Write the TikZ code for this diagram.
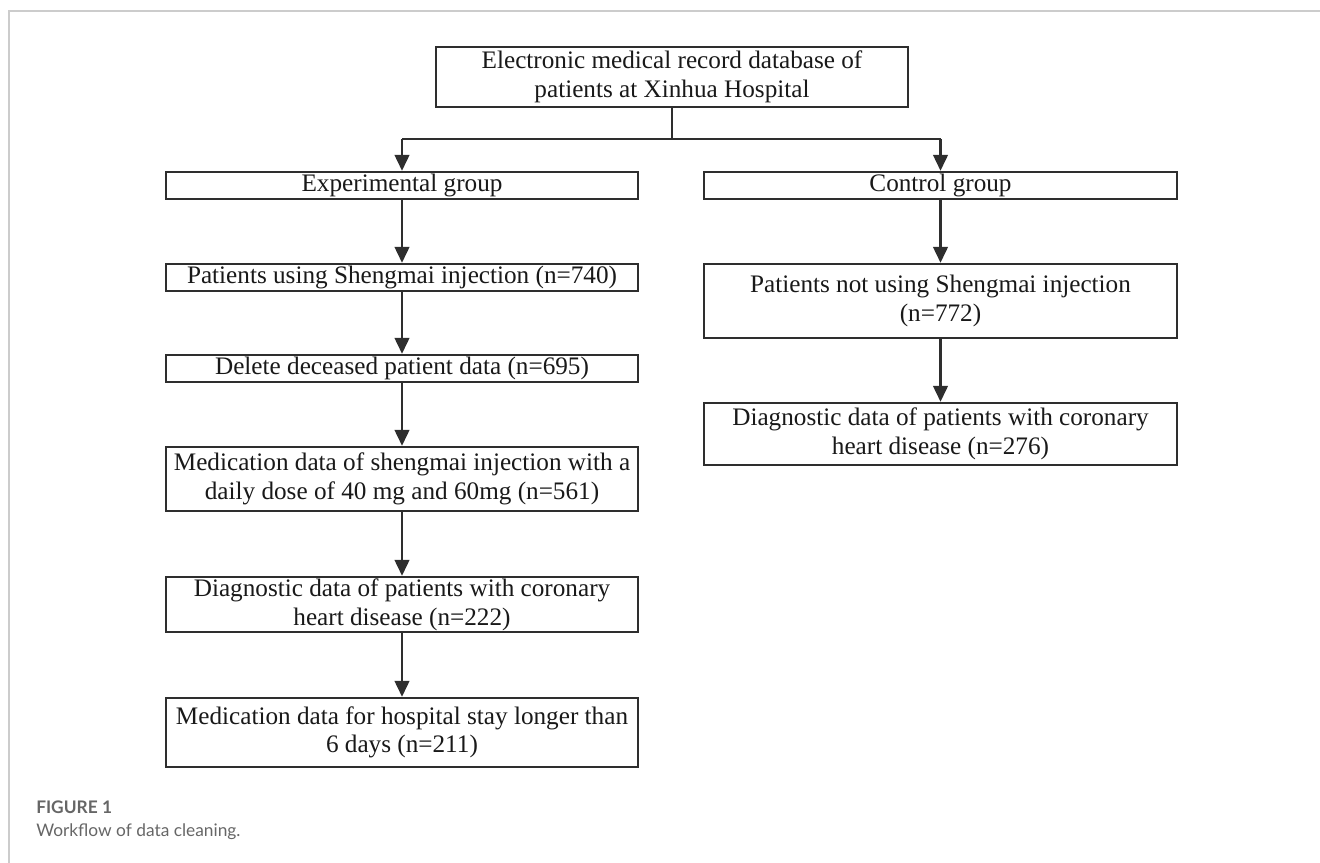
\documentclass[tikz,border=0pt]{standalone}
\usepackage{fontspec}
\setmainfont{Liberation Serif}
\newfontfamily\capfont{Lato}
\usetikzlibrary{arrows.meta}
\definecolor{framegray}{HTML}{CCCCCC}
\definecolor{capgray}{HTML}{666666}
\definecolor{boxline}{HTML}{2E2E2E}
\tikzset{
  x=0.75pt, y=-0.75pt,
  flowbox/.style={draw=boxline, line width=1.8pt, fill=white, inner sep=0pt,
    align=center, font=\fontsize{18.9}{21.5}\selectfont, text=black!90},
  flowarrow/.style={draw=boxline, line width=1.8pt, -{Triangle[width=11pt,length=12pt]}},
  flowline/.style={draw=boxline, line width=1.8pt},
}
\begin{document}
\begin{tikzpicture}
\useasboundingbox (0,0) rectangle (1320,863);
% frame
\draw[framegray, line width=1.5pt] (9,863) -- (9,11.5) -- (1320,11.5);
% boxes (pixel coordinates)
\node[flowbox, minimum width=472*0.75pt, minimum height=60*0.75pt] (top) at (672,77)
  {Electronic medical record database of\\patients at Xinhua Hospital};
\node[flowbox, minimum width=472*0.75pt, minimum height=27*0.75pt] (exp) at (402,185.5) {Experimental group};
\node[flowbox, minimum width=472*0.75pt, minimum height=27*0.75pt] (pat) at (402,277.5) {Patients using Shengmai injection (n=740)};
\node[flowbox, minimum width=472*0.75pt, minimum height=27*0.75pt] (del) at (402,368.5) {Delete deceased patient data (n=695)};
\node[flowbox, minimum width=472*0.75pt, minimum height=64*0.75pt] (med) at (402,479)
  {Medication data of shengmai injection with a\\daily dose of 40 mg and 60mg (n=561)};
\node[flowbox, minimum width=472*0.75pt, minimum height=55*0.75pt] (diagl) at (402,604.5)
  {Diagnostic data of patients with coronary\\heart disease (n=222)};
\node[flowbox, minimum width=472*0.75pt, minimum height=69*0.75pt] (stay) at (402,732.5)
  {Medication data for hospital stay longer than\\6 days (n=211)};
\node[flowbox, minimum width=473*0.75pt, minimum height=27*0.75pt] (ctl) at (940.5,185.5) {Control group};
\node[flowbox, minimum width=473*0.75pt, minimum height=74*0.75pt] (notu) at (940.5,301)
  {Patients not using Shengmai injection\\(n=772)};
\node[flowbox, minimum width=473*0.75pt, minimum height=62*0.75pt] (diagr) at (940.5,434)
  {Diagnostic data of patients with coronary\\heart disease (n=276)};
% connectors
\coordinate (split) at (672,139);
\coordinate (splitl) at (402,139);
\coordinate (splitr) at (940.5,139);
\draw[flowline] (top.south) -- (split);
\draw[flowline] (splitl) -- (splitr);
\draw[flowarrow] (splitl) -- (exp.north);
\draw[flowarrow] (splitr) -- (ctl.north);
\draw[flowarrow] (exp) -- (pat);
\draw[flowarrow] (pat) -- (del);
\draw[flowarrow] (del) -- (med);
\draw[flowarrow] (med) -- (diagl);
\draw[flowarrow] (diagl) -- (stay);
\draw[flowarrow] (ctl) -- (notu);
\draw[flowarrow] (notu) -- (diagr);
% caption
\node[anchor=base west, inner sep=0pt, text=capgray, font=\capfont\bfseries\fontsize{13}{15}\selectfont] (figlab) at (36,813) {FIGURE 1};
\node[anchor=base west, inner sep=0pt, text=capgray, font=\capfont\fontsize{13}{15}\selectfont] (figcap) at (36,836) {Workflow of data cleaning.};
\end{tikzpicture}
\end{document}
